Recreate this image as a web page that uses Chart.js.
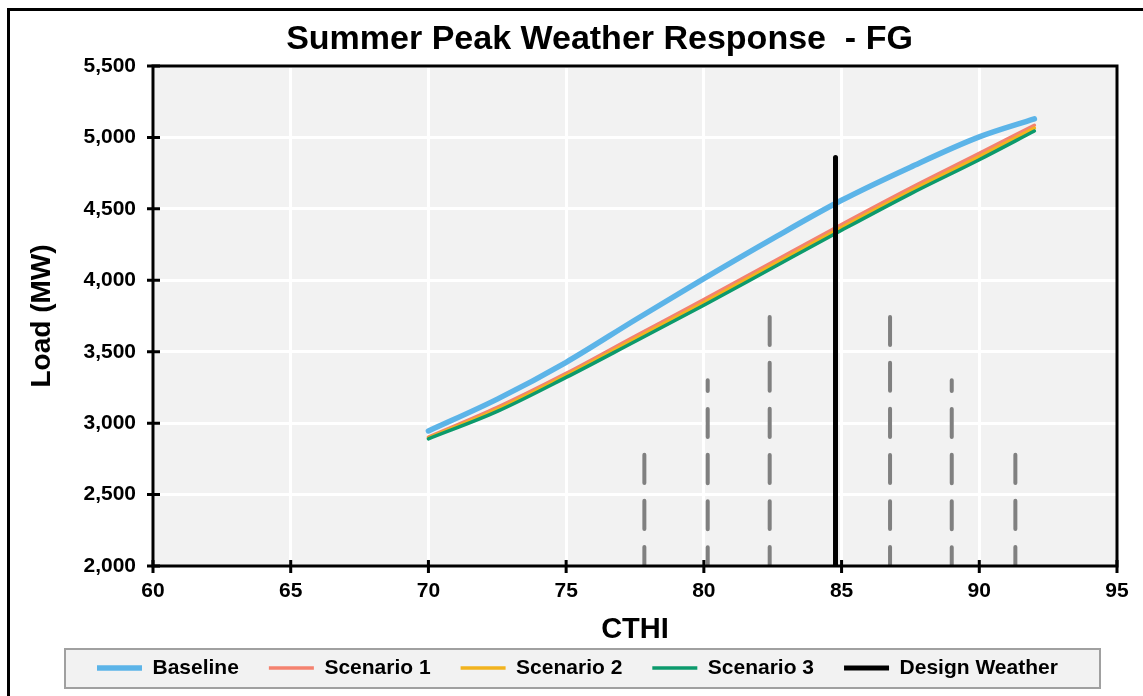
<!DOCTYPE html>
<html><head><meta charset="utf-8">
<script src="https://cdn.jsdelivr.net/npm/chart.js@4.4.1/dist/chart.umd.min.js"></script>
<style>html,body{margin:0;padding:0;background:#fff;overflow:hidden;} #wrap{width:1143px;height:696px;position:relative;}</style>
</head><body><div id="wrap"><canvas id="c" width="1143" height="696"></canvas></div>
<script>
// ---- data ----
const cthi = [70, 72.5, 75, 77.5, 80, 82.5, 85, 87.5, 90, 92];
const baseline  = [2945, 3168, 3426, 3722, 4012, 4292, 4560, 4792, 5004, 5130];
const scenario1 = [2902, 3110, 3348, 3608, 3865, 4128, 4390, 4645, 4888, 5085];
const scenario2 = [2896, 3096, 3334, 3590, 3845, 4108, 4370, 4625, 4866, 5065];
const scenario3 = [2890, 3082, 3320, 3572, 3825, 4088, 4350, 4605, 4844, 5045];
const designCTHI = 84.78;
const designTop = 4860;
const bandCTHI = [77.84, 80.14, 82.39, 86.76, 89.0, 91.31];
const bandTop  = [2800, 3300, 3750, 3750, 3300, 2800];
const seriesNames = ['Baseline', 'Scenario 1', 'Scenario 2', 'Scenario 3', 'Design Weather'];
const xTicks = [60, 65, 70, 75, 80, 85, 90, 95];
const yTicks = [2000, 2500, 3000, 3500, 4000, 4500, 5000, 5500];

const FONT = "'Liberation Sans', Arial, Helvetica, sans-serif";
Chart.defaults.font.family = FONT;
Chart.defaults.color = '#000';

const pts = (xs, ys) => xs.map((x, i) => ({x: x, y: ys[i]}));
const vlineDown = (x, top) => [{x: x, y: top}, {x: x, y: yTicks[0]}];
const vlineUp = (x, top) => [{x: x, y: yTicks[0]}, {x: x, y: top}];

const common = {showLine: true, pointRadius: 0, pointHoverRadius: 0, fill: false,
  borderCapStyle: 'round', borderJoinStyle: 'round', cubicInterpolationMode: 'monotone'};

const datasets = [
  Object.assign({label: seriesNames[0], data: pts(cthi, baseline), borderColor: '#5CB4E8', backgroundColor: '#5CB4E8', borderWidth: 5.5, order: 4}, common),
  Object.assign({label: seriesNames[1], data: pts(cthi, scenario1), borderColor: '#F4826F', backgroundColor: '#F4826F', borderWidth: 3.5, order: 3}, common),
  Object.assign({label: seriesNames[2], data: pts(cthi, scenario2), borderColor: '#F2B31E', backgroundColor: '#F2B31E', borderWidth: 3.5, order: 2}, common),
  Object.assign({label: seriesNames[3], data: pts(cthi, scenario3), borderColor: '#0C9A6C', backgroundColor: '#0C9A6C', borderWidth: 3.5, order: 1}, common),
  Object.assign({label: seriesNames[4], data: vlineDown(designCTHI, designTop), borderColor: '#000', backgroundColor: '#000', borderWidth: 5, order: 0}, common),
].concat(bandCTHI.map((x, i) => Object.assign({label: '', data: vlineUp(x, bandTop[i]), borderColor: '#808080',
  backgroundColor: '#808080', borderWidth: 4, borderDash: [28, 18], borderDashOffset: 9, order: 5}, common)));

const framePlugin = {
  id: 'framePlugin',
  afterLayout(chart) {
    const lg = chart.legend;
    if (lg) {
      const p = lg.options.labels.padding;
      const startX = (lg.left + p + lg.right - lg.lineWidths[0]) / 2;
      const dx = 97 - startX;
      const dy = (668 - p - 10.5) - lg.top;
      lg.left += dx; lg.right += dx; lg.top += dy; lg.bottom += dy;
    }
    const tb = chart.titleBlock;
    if (tb) { const dx = 599.5 - (tb.left + tb.right) / 2; tb.left += dx; tb.right += dx; }
  },
  beforeDraw(chart) {
    const {ctx, chartArea: a} = chart;
    ctx.save();
    ctx.fillStyle = '#fff'; ctx.fillRect(0, 0, chart.width, chart.height);
    ctx.fillStyle = '#f2f2f2'; ctx.fillRect(a.left, a.top, a.right - a.left, a.bottom - a.top);
    // outer frame
    ctx.strokeStyle = '#000'; ctx.lineWidth = 3;
    ctx.beginPath(); ctx.moveTo(8.5, 700); ctx.lineTo(8.5, 9.5); ctx.lineTo(1150, 9.5); ctx.stroke();
    // legend box
    ctx.fillStyle = '#f2f2f2'; ctx.fillRect(65, 649, 1035, 39);
    ctx.strokeStyle = '#a0a0a0'; ctx.lineWidth = 2; ctx.strokeRect(65, 649, 1035, 39);
    ctx.restore();
  },
  afterDatasetsDraw(chart) {
    const {ctx, chartArea: a, scales} = chart;
    ctx.save();
    ctx.strokeStyle = '#000'; ctx.lineWidth = 3; ctx.lineCap = 'butt';
    ctx.strokeRect(a.left, a.top, a.right - a.left, a.bottom - a.top);
    ctx.beginPath();
    yTicks.forEach(v => { const y = scales.y.getPixelForValue(v); ctx.moveTo(a.left - 6, y); ctx.lineTo(a.left + 7, y); });
    xTicks.forEach(v => { const x = scales.x.getPixelForValue(v); ctx.moveTo(x, a.bottom - 6); ctx.lineTo(x, a.bottom + 7); });
    ctx.stroke();
    ctx.restore();
  }
};

new Chart(document.getElementById('c'), {
  type: 'scatter',
  data: {datasets: datasets},
  plugins: [framePlugin],
  options: {
    responsive: false, animation: false, devicePixelRatio: 1,
    layout: {padding: {left: 0, right: 26, top: 0, bottom: 0}},
    plugins: {
      tooltip: {enabled: false},
      title: {display: true, text: 'Summer Peak Weather Response  - FG', color: '#000',
        font: {size: 34, weight: 'bold', family: FONT}, padding: {top: 19, bottom: 6.2}},
      legend: {position: 'bottom', align: 'center',
        labels: {usePointStyle: true, pointStyle: 'line', pointStyleWidth: 45, boxWidth: 45, boxHeight: 21,
          padding: 30, color: '#000', font: {size: 21, weight: 'bold', family: FONT},
          filter: (item) => item.text !== '',
          sort: (a, b) => a.datasetIndex - b.datasetIndex}}
    },
    scales: {
      x: {type: 'linear', min: xTicks[0], max: xTicks[xTicks.length - 1],
        afterBuildTicks: (s) => { s.ticks = xTicks.map(v => ({value: v})); },
        ticks: {padding: 13, color: '#000', font: {size: 21, weight: 'bold', family: FONT}},
        grid: {color: '#fff', lineWidth: 3, drawTicks: false},
        border: {display: false},
        title: {display: true, text: 'CTHI', color: '#000', font: {size: 29, weight: 'bold', family: FONT},
          padding: {top: 0, bottom: -12.4}},
        afterFit: (s) => { s.height = 69; }},
      y: {type: 'linear', min: yTicks[0], max: yTicks[yTicks.length - 1],
        afterBuildTicks: (s) => { s.ticks = yTicks.map(v => ({value: v})); },
        ticks: {padding: 17, color: '#000', font: {size: 21, weight: 'bold', family: FONT},
          callback: (v) => Number(v).toLocaleString('en-US')},
        grid: {color: '#fff', lineWidth: 3, drawTicks: false},
        border: {display: false},
        title: {display: true, text: 'Load (MW)', color: '#000', font: {size: 28, weight: 'bold', family: FONT},
          padding: {top: 25, bottom: 0}},
        afterFit: (s) => { s.width = 153; }}
    }
  }
});
</script></body></html>
